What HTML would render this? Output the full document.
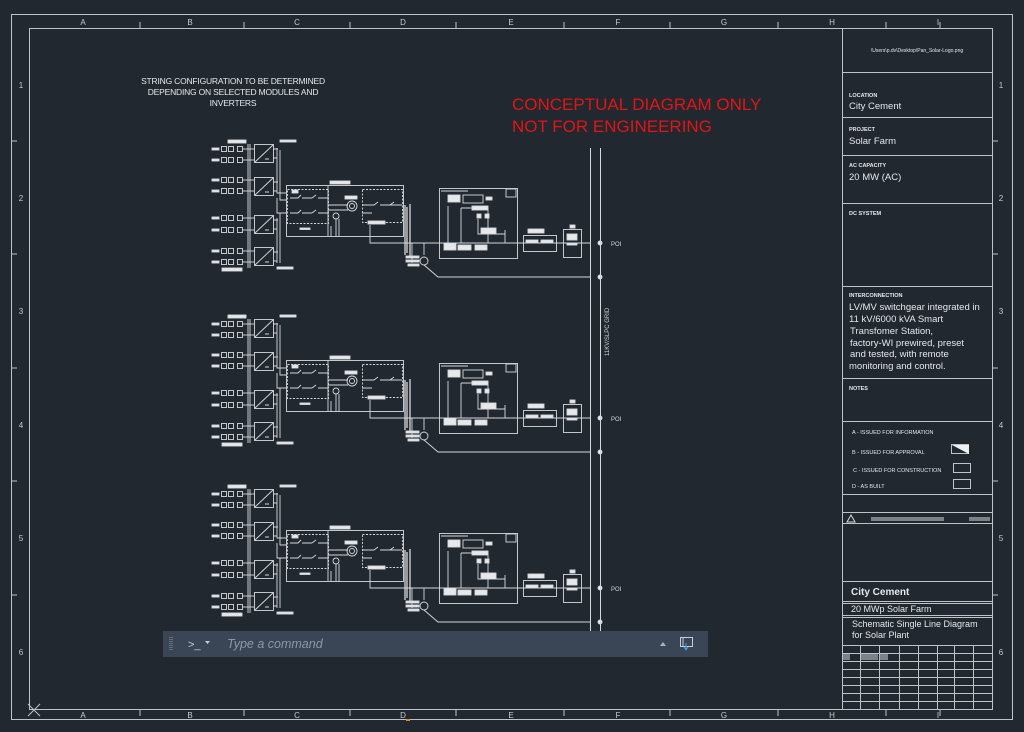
<!DOCTYPE html>
<html><head><meta charset="utf-8"><style>
html,body{margin:0;padding:0;background:#212830;}
svg{display:block;}
text{font-family:"Liberation Sans",sans-serif;}
</style></head><body>
<svg width="1024" height="732" viewBox="0 0 1024 732" xmlns="http://www.w3.org/2000/svg">
<rect width="1024" height="732" fill="#212830"/>
<g stroke="#bfc3c8" fill="none" stroke-width="1">
<rect x="11.5" y="14.5" width="1001" height="705"/>
<rect x="29.5" y="28.5" width="963" height="681"/>
<!-- ruler ticks top/bottom -->
<path d="M140 22v6M244 22v6M350 22v6M456 22v6M564 22v6M670 22v6M778 22v6M886 22v6M940 22v6 M140 710v6M244 710v6M350 710v6M456 710v6M564 710v6M670 710v6M778 710v6M886 710v6M940 710v6"/>
<path d="M11 141h6M11 254h6M11 368h6M11 481h6M11 595h6 M992 141h6M992 254h6M992 368h6M992 481h6M992 595h6"/>
</g>
<g fill="#c8cbd0" font-size="8" text-anchor="middle">
<text x="83" y="25">A</text><text x="190" y="25">B</text><text x="297" y="25">C</text><text x="403" y="25">D</text><text x="511" y="25">E</text><text x="618" y="25">F</text><text x="724" y="25">G</text><text x="832" y="25">H</text><text x="938" y="25">I</text>
<text x="83" y="718">A</text><text x="190" y="718">B</text><text x="297" y="718">C</text><text x="403" y="718">D</text><text x="511" y="718">E</text><text x="618" y="718">F</text><text x="724" y="718">G</text><text x="832" y="718">H</text><text x="938" y="718">I</text>
<text x="21" y="88">1</text><text x="21" y="201">2</text><text x="21" y="314">3</text><text x="21" y="428">4</text><text x="21" y="541">5</text><text x="21" y="655">6</text>
<text x="1001" y="88">1</text><text x="1001" y="201">2</text><text x="1001" y="314">3</text><text x="1001" y="428">4</text><text x="1001" y="541">5</text><text x="1001" y="655">6</text>
</g>
<path d="M28 704l12 12M28 716l12-12" stroke="#bfc3c8"/>
<rect x="406" y="719" width="4" height="2" fill="#e08a2a"/>

<!-- notes -->
<g fill="#e6e8ea" font-size="8.5" text-anchor="middle" letter-spacing="-0.2">
<text x="233" y="84">STRING CONFIGURATION TO BE DETERMINED</text>
<text x="233" y="95">DEPENDING ON SELECTED MODULES AND</text>
<text x="233" y="106">INVERTERS</text>
</g>
<g fill="#e31414" font-size="17">
<text x="512" y="110">CONCEPTUAL DIAGRAM ONLY</text>
<text x="512" y="132">NOT FOR ENGINEERING</text>
</g>

<defs>
<g id="row">
<rect x="212" y="-1" width="7" height="2" fill="#e6e8ea"/>
<rect x="221.5" y="-2.5" width="5" height="5"/><rect x="228.5" y="-2.5" width="5" height="5"/>
<rect x="237.5" y="-2.5" width="5" height="5"/>
<path d="M242 0h12"/>
</g>
<g id="inv">
<rect x="254.5" y="0.5" width="19" height="18"/>
<path d="M255 18L273 1M265 15h4"/>
<path d="M273 5h5M273 14h4"/>
</g>
<g id="blk" stroke="#d6d9dc" fill="none" stroke-width="0.9">
<use href="#row" y="149"/><use href="#row" y="160"/>
<use href="#row" y="180"/><use href="#row" y="191"/>
<use href="#row" y="218"/><use href="#row" y="230"/>
<use href="#row" y="251"/><use href="#row" y="262"/>
<path d="M248 144v124M250 144v124"/>
<use href="#inv" y="144"/><use href="#inv" y="177"/><use href="#inv" y="215"/><use href="#inv" y="247"/>
<rect x="228" y="140" width="18" height="3" fill="#e6e8ea"/>
<rect x="222" y="268" width="20" height="3" fill="#e6e8ea"/>
<rect x="280" y="140" width="16" height="2" fill="#e6e8ea"/>
<rect x="277" y="267" width="16" height="2" fill="#e6e8ea"/>
<path d="M277 148v45h9M280 150v50h6M277 218v45M280 213h6M280 213v50M277 198v15h9"/>
<!-- combiner -->
<rect x="286.5" y="185.5" width="117" height="51"/>
<rect x="287.5" y="189.5" width="41" height="34" stroke-dasharray="2 1.5"/>
<rect x="362.5" y="189.5" width="40" height="33" stroke-dasharray="2 1.5"/>
<path d="M328 186v50"/>
<rect x="330" y="181" width="20" height="3" fill="#e6e8ea"/>
<path d="M290 198h8l3-3M302 198h10M312 198l4-3M318 198h10M290 213h8l3-3M302 213h10M312 213l4-3M318 213h10M328 205h20M328 210h20M362 205h12l4-3M380 205h10l4-3M362 213h10M390 205h12"/>
<circle cx="352" cy="206" r="5"/><circle cx="352" cy="206" r="2.5"/>
<rect x="345" y="196" width="12" height="3" fill="#e6e8ea"/>
<circle cx="336" cy="216" r="3"/>
<path d="M336 219v18M339 219v18M331 226v11"/>
<rect x="368" y="221" width="17" height="3" fill="#e6e8ea"/>
<rect x="300" y="228" width="10" height="1.5" fill="#e6e8ea"/>
<rect x="292" y="190" width="6" height="3" fill="#e6e8ea"/>
<!-- transformer -->
<path d="M405 205v50M407 207v46M410 204v52" stroke-width="1.3"/>
<path d="M412 243v20"/>
<path d="M370 225v18h220"/>
<rect x="406" y="256" width="13" height="2" fill="#e6e8ea"/><rect x="406" y="260" width="13" height="2" fill="#e6e8ea"/><rect x="408" y="264" width="11" height="2" fill="#e6e8ea"/>
<path d="M424 243v12"/><circle cx="424" cy="261" r="4"/><path d="M424 265l14 12h152"/>
<!-- meter box -->
<rect x="439.5" y="188.5" width="78" height="70"/>
<path d="M441 191h27"/>
<rect x="506" y="189" width="10" height="8"/>
<rect x="448" y="195" width="12" height="7" fill="#e6e8ea"/>
<rect x="463" y="195" width="20" height="8"/>
<rect x="486" y="197" width="6" height="3" fill="#e6e8ea"/>
<path d="M448 206v37M461 208v35M461 208h27v35"/>
<rect x="472" y="206" width="16" height="4" fill="#e6e8ea"/>
<rect x="477" y="214" width="4" height="4" fill="#e6e8ea"/><rect x="485" y="214" width="4" height="4" fill="#e6e8ea"/>
<path d="M478 219v15h27M505 230v13"/>
<rect x="481" y="228" width="15" height="6" fill="#e6e8ea"/>
<rect x="444" y="243" width="12" height="7" fill="#e6e8ea"/><rect x="458" y="245" width="13" height="5" fill="#e6e8ea"/><rect x="475" y="245" width="12" height="5" fill="#e6e8ea"/>
<!-- right boxes -->
<rect x="523.5" y="235.5" width="33" height="16"/>
<rect x="526" y="240" width="12" height="3" fill="#e6e8ea"/><rect x="541" y="240" width="12" height="3" fill="#e6e8ea"/>
<rect x="528" y="229" width="16" height="4" fill="#e6e8ea"/>
<rect x="563.5" y="229.5" width="18" height="28"/>
<rect x="567" y="234" width="10" height="6" fill="#e6e8ea"/><rect x="567" y="243" width="10" height="2" fill="#e6e8ea"/>
<rect x="570" y="225" width="5" height="3" fill="#e6e8ea"/>
<circle cx="600" cy="243" r="2" fill="#e6e8ea"/>
<circle cx="600" cy="277" r="2" fill="#e6e8ea"/>
</g>
</defs>
<use href="#blk"/>
<use href="#blk" y="175"/>
<use href="#blk" y="345"/>
<path d="M590.5 148v483M600.5 148v483" stroke="#d6d9dc" stroke-width="1"/>
<g fill="#d6d9dc" font-size="6"><text x="611" y="246">POI</text><text x="611" y="421">POI</text><text x="611" y="591">POI</text>
<text transform="translate(609,356) rotate(-90)" font-size="6">11KV/SLPC GRID</text></g>

<!-- title block -->
<g stroke="#bfc3c8" fill="none" stroke-width="1">
<path d="M842.5 28v682"/>
<path d="M842 72.5h150M842 117.5h150M842 155.5h150M842 203.5h150M842 286.5h150M842 378.5h150M842 421.5h150M842 494.5h150M842 512.5h150M842 523.5h150M842 581.5h150M842 601.5h150M842 603.5h150M842 615.5h150M842 617.5h150"/>
<path d="M842 645.5h150M842 653.5h150M842 661.5h150M842 669.5h150M842 677.5h150M842 685.5h150M842 693.5h150M842 701.5h150"/>
<path d="M860.5 645v65M879.5 645v65M899.5 645v65M918.5 645v65M937.5 645v65M954.5 645v65M973.5 645v65"/>
<path d="M847 522l4-7 4 7z" stroke="#d6d9dc"/>
<rect x="951.5" y="444.5" width="17" height="9"/>
<rect x="953.5" y="463.5" width="17" height="9"/>
<rect x="953.5" y="479.5" width="17" height="9"/>
</g>
<path d="M952 445h17v9z" fill="#f0f0f0"/>
<rect x="871" y="517" width="73" height="4" fill="#7d8188"/><rect x="969" y="517" width="21" height="4" fill="#7d8188"/>
<rect x="843" y="654" width="7" height="6" fill="#7d8188"/><rect x="861" y="654" width="17" height="6" fill="#7d8188"/><rect x="880" y="654" width="8" height="6" fill="#7d8188"/>
<g fill="#e6e8ea">
<text x="917" y="52" font-size="5" text-anchor="middle">\Users\p.dv\Desktop\Pan_Solar-Logo.png</text>
<text x="849" y="97" font-size="5.5" font-weight="bold">LOCATION</text>
<text x="849" y="109" font-size="9.5">City Cement</text>
<text x="849" y="131" font-size="5.5" font-weight="bold">PROJECT</text>
<text x="849" y="144" font-size="9.5">Solar Farm</text>
<text x="849" y="167" font-size="5.5" font-weight="bold">AC CAPACITY</text>
<text x="849" y="180" font-size="9.5">20 MW (AC)</text>
<text x="849" y="215" font-size="5.5" font-weight="bold">DC SYSTEM</text>
<text x="849" y="297" font-size="5.5" font-weight="bold">INTERCONNECTION</text>
<g font-size="9.5"><text x="849" y="310">LV/MV switchgear integrated in</text><text x="849" y="322">11 kV/6000 kVA Smart</text><text x="850" y="334">Transfomer Station,</text><text x="850" y="346">factory-WI prewired, preset</text><text x="850" y="357">and tested, with remote</text><text x="849" y="369">monitoring and control.</text></g>
<text x="849" y="390" font-size="5.5" font-weight="bold">NOTES</text>
<g font-size="5.5"><text x="852" y="434">A - ISSUED FOR INFORMATION</text><text x="852" y="454">B - ISSUED FOR APPROVAL</text><text x="853" y="472">C - ISSUED FOR CONSTRUCTION</text><text x="852" y="488">D - AS BUILT</text></g>
<text x="851" y="595" font-size="10" font-weight="bold">City Cement</text>
<text x="851" y="612" font-size="9">20 MWp Solar Farm</text>
<text x="852" y="627" font-size="9">Schematic Single Line Diagram</text>
<text x="852" y="638" font-size="9">for Solar Plant</text>
</g>

<!-- command bar -->
<rect x="163" y="631" width="545" height="26" fill="#3a4656"/>
<path d="M170 637v14M172 637v14" stroke="#8a95a3" stroke-dasharray="1 1"/>
<text x="188" y="648" font-size="11" fill="#c8cdd3">&gt;_</text>
<path d="M205 641h5l-2.5 3z" fill="#c8cdd3"/>
<text x="227" y="648" font-size="12.5" font-style="italic" fill="#8e98a5" font-family="DejaVu Sans, sans-serif">Type a command</text>
<path d="M660 646l3-4 3 4z" fill="#a9b1bb"/>
<rect x="680.5" y="637.5" width="12" height="9" stroke="#c8cdd3" fill="none"/>
<path d="M683 638v8" stroke="#c8cdd3"/>
<path d="M686 643v6M684 647l2 3 2-3" stroke="#3aa0e8" fill="none"/>
</svg>
</body></html>
